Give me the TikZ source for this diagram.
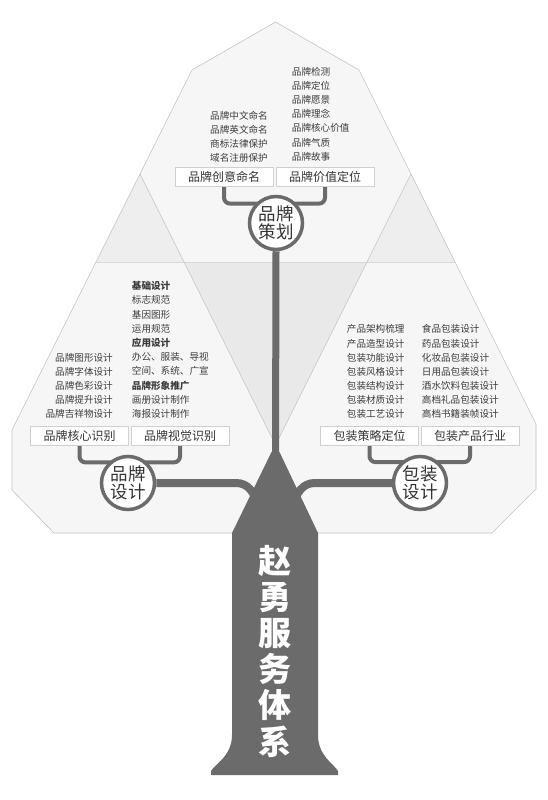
\documentclass[tikz,border=0pt]{standalone}
\usepackage{fontspec}
\setmainfont{Noto Sans CJK SC}
\definecolor{leafC}{HTML}{F6F6F6}
\definecolor{overC}{HTML}{EEEEEE}
\definecolor{midC}{HTML}{E9E9E9}
\definecolor{lineC}{HTML}{C4C4C4}
\definecolor{hlineC}{HTML}{D8D8D8}
\definecolor{boxC}{HTML}{CFCFCF}
\definecolor{trunkC}{HTML}{6B6B6B}
\definecolor{txtC}{HTML}{333333}
\definecolor{listC}{HTML}{3C3C3C}
\pgfdeclarelayer{leaves}
\pgfdeclarelayer{conn}
\pgfsetlayers{leaves,conn,main}
\begin{document}
\begin{tikzpicture}[x=1pt,y=-1pt,
  leafline/.style={draw=lineC, line width=0.6pt},
  boxn/.style={draw=boxC, fill=white, line width=0.6pt, minimum width=97.6pt, minimum height=18.6pt, inner sep=0pt, font=\fontsize{12}{12}\selectfont, text=txtC},
  circn/.style={circle, draw=trunkC, line width=3.5pt, fill=white, minimum size=53pt, inner sep=0pt, align=center, font=\fontsize{17.5}{18}\selectfont, text=txtC},
  listt/.style={inner sep=0pt, font=\fontsize{9.6}{10}\selectfont, text=listC},
  bracket/.style={draw=trunkC, line width=4pt, rounded corners=6pt},
  branch/.style={draw=trunkC, line width=8pt},
  stemline/.style={draw=trunkC, line width=7pt},
]
\useasboundingbox (0,0) rectangle (547,800);

% leaves
\begin{pgfonlayer}{leaves}
\fill[white] (0,0) rectangle (547,800);
\fill[leafC] (275.5,22) -- (359,70) -- (536,424) -- (536,489) -- (492,533) -- (54,533) -- (12,490) -- (12,430) -- (192,70) -- cycle;
\fill[overC] (140,174) -- (96,262) -- (184,262) -- cycle;
\fill[overC] (411,174) -- (455,262) -- (367,262) -- cycle;
\fill[midC] (184,262) -- (367,262) -- (275.5,445) -- cycle;
\draw[hlineC, line width=0.8pt] (96,262) -- (455,262);
\draw[leafline] (140,174) -- (275.5,445) -- (411,174);
\draw[leafline] (275.5,22) -- (359,70) -- (536,424) -- (536,489) -- (492,533) -- (54,533) -- (12,490) -- (12,430) -- (192,70) -- cycle;
\end{pgfonlayer}

% boxes
\node[boxn] (tb1) at (224,176.5) {品牌创意命名};
\node[boxn] (tb2) at (325,176.5) {品牌价值定位};
\node[boxn] (lb1) at (79.5,435.8) {品牌核心识别};
\node[boxn] (lb2) at (180,435.8) {品牌视觉识别};
\node[boxn] (rb1) at (369.5,435.5) {包装策略定位};
\node[boxn] (rb2) at (470,435.5) {包装产品行业};

% circles
\node[circn] (cT) at (276,223) {品牌\\策划};
\node[circn] (cL) at (128,483) {品牌\\设计};
\node[circn] (cR) at (420,483) {包装\\设计};

\coordinate (trunkTop) at (275.5,462);
\coordinate (trunkL) at (258,505);
\coordinate (trunkR) at (293,505);

\begin{pgfonlayer}{conn}
\fill[trunkC] (271.5,452) -- (279.5,452) -- (318,533) -- (318,735) .. controls (318,756) and (334,764) .. (338,771) -- (338,775) -- (211,775) -- (211,771) .. controls (215,764) and (232,756) .. (232,735) -- (232,533) -- cycle;
\draw[stemline] (cT.south) -- (trunkTop);
\draw[bracket] (tb1.south) -- ++(0,17.5) -| (tb2.south);
\draw[bracket] (lb1.south) -- ++(0,17) -| (lb2.south);
\draw[bracket] (rb1.south) -- ++(0,17) -| (rb2.south);
\draw[branch] (cL.east) -- (236,483) .. controls (248,483) and (254,492) .. (trunkL);
\draw[branch] (cR.west) -- (315,483) .. controls (303,483) and (297,492) .. (trunkR);
\end{pgfonlayer}

% lists
\foreach \t [count=\i] in {品牌中文命名,品牌英文命名,商标法律保护,域名注册保护}
  \node[listt, anchor=west] (tl\i) at (210,102+14*\i) {\t};
\foreach \t [count=\i] in {品牌检测,品牌定位,品牌愿景,品牌理念,品牌核心价值,品牌气质,品牌故事}
  \node[listt, anchor=west] (tr\i) at (291.7,57.5+14.17*\i) {\t};
\foreach \t [count=\i] in {品牌图形设计,品牌字体设计,品牌色彩设计,品牌提升设计,品牌吉祥物设计}
  \node[listt, anchor=east] (ll\i) at (113,344+14*\i) {\t};
\foreach \t [count=\i] in {\textbf{基础设计},标志规范,基因图形,运用规范,\textbf{应用设计},办公、服装、导视,空间、系统、广宣,\textbf{品牌形象推广},画册设计制作,海报设计制作}
  \node[listt, anchor=west] (lr\i) at (131.7,271.8+14.22*\i) {\t};
\foreach \t [count=\i] in {产品架构梳理,产品造型设计,包装功能设计,包装风格设计,包装结构设计,包装材质设计,包装工艺设计}
  \node[listt, anchor=west] (rl\i) at (346.7,315.2+14.12*\i) {\t};
\foreach \t [count=\i] in {食品包装设计,药品包装设计,化妆品包装设计,日用品包装设计,酒水饮料包装设计,高档礼品包装设计,高档书籍装帧设计}
  \node[listt, anchor=west] (rr\i) at (421.7,315.2+14.12*\i) {\t};

% trunk title
\node[font=\bfseries\fontsize{33}{36}\selectfont, text=white, align=center, inner sep=0pt] (title) at (274.5,651.5) {赵\\勇\\服\\务\\体\\系};
\end{tikzpicture}
\end{document}
